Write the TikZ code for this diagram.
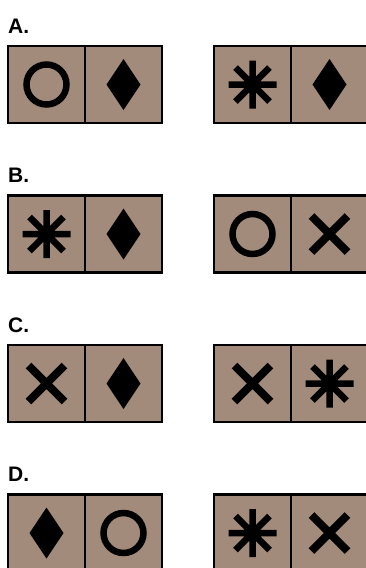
\documentclass[tikz,border=0pt]{standalone}
\usepackage{fontspec}
\setmainfont{Liberation Sans}
\definecolor{cellfill}{HTML}{A38B7B}
\tikzset{
  cell/.style={draw=black, fill=cellfill, line width=2.2pt, minimum width=77pt, minimum height=77pt, inner sep=0pt, outer sep=0pt},
  lbl/.style={anchor=base west, inner sep=0pt, font=\fontsize{21pt}{24pt}\selectfont\bfseries},
  circsym/.pic={\draw[line width=6.5pt] (0,0) circle (20pt);},
  diamsym/.pic={\fill (0,25.5) -- (17,0) -- (0,-25.5) -- (-17,0) -- cycle;},
  astsym/.pic={\draw[line width=6.5pt] (0,-24) -- (0,24) (-24,0) -- (24,0) (-17,-17) -- (17,17) (-17,17) -- (17,-17);},
  crosssym/.pic={\draw[line width=8pt] (-18,-18) -- (18,18) (-18,18) -- (18,-18);}
}
\begin{document}
\begin{tikzpicture}[x=1pt,y=-1pt]
\useasboundingbox (0,0) rectangle (366,568);
% rows
\foreach \r/\yc/\yl/\L/\sa/\sb/\sc/\sd in {
  a/84.5/33/A./circsym/diamsym/astsym/diamsym,
  b/234/182.5/B./astsym/diamsym/circsym/crosssym,
  c/383.5/332/C./crosssym/diamsym/crosssym/astsym,
  d/533/481.5/D./diamsym/circsym/astsym/crosssym}{
  \node[lbl] (\r lbl) at (8,\yl) {\L};
  \node[cell] (\r1) at (46.5,\yc) {};
  \node[cell] (\r2) at (123.5,\yc) {};
  \node[cell] (\r3) at (252.5,\yc) {};
  \node[cell] (\r4) at (329.5,\yc) {};
  \pic at (\r1) {\sa};
  \pic at (\r2) {\sb};
  \pic at (\r3) {\sc};
  \pic at (\r4) {\sd};
}
\end{tikzpicture}
\end{document}
